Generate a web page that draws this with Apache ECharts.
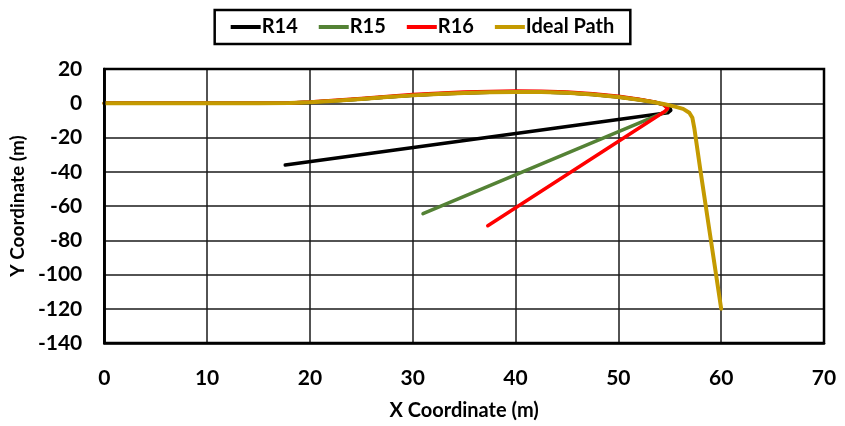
<!DOCTYPE html>
<html>
<head>
<meta charset="utf-8">
<script src="https://cdn.jsdelivr.net/npm/echarts@6/dist/echarts.min.js"></script>
<style>html,body{margin:0;padding:0;background:#fff;}#c{width:845px;height:426px;}</style>
</head>
<body>
<div id="c"></div>
<script>
const seriesNames = ['R14', 'R15', 'R16', 'Ideal Path'];
const colors = ['#000000', '#548235', '#ff0000', '#c49a00'];

const r14X = [0, 10, 15, 18, 20, 22.5, 25, 27.5, 30, 32.5, 35, 37.5, 40, 42.5, 45, 47.5, 50, 52, 53.5, 54.5, 55.0, 55.1, 54.8, 17.6];
const r14Y = [0, 0, 0, 0.2, 0.6, 1.5, 2.5, 3.6, 4.6, 5.4, 6.0, 6.4, 6.6, 6.5, 6.1, 5.1, 3.7, 2.1, 0.6, -0.8, -2.5, -4.2, -5.6, -36];

const r15X = [0, 10, 15, 18, 20, 22.5, 25, 27.5, 30, 32.5, 35, 37.5, 40, 42.5, 45, 47.5, 50, 52, 53.5, 54.4, 54.8, 54.6, 31.0];
const r15Y = [0, 0, 0, 0.2, 0.6, 1.5, 2.5, 3.6, 4.7, 5.5, 6.1, 6.5, 6.7, 6.6, 6.2, 5.2, 3.8, 2.2, 0.6, -0.9, -3.0, -5.0, -64.5];

const r16X = [0, 10, 15, 18, 20, 22.5, 25, 27.5, 30, 32.5, 35, 37.5, 40, 42.5, 45, 47.5, 50, 52, 53.5, 54.4, 54.8, 54.5, 37.3];
const r16Y = [0, 0, 0, 0.2, 0.7, 1.7, 2.8, 4.0, 5.1, 5.9, 6.5, 6.9, 7.1, 7.0, 6.6, 5.6, 4.1, 2.4, 0.8, -0.8, -3.0, -4.8, -71.5];

const idealX = [0, 10, 15, 18, 20, 22.5, 25, 27.5, 30, 32.5, 35, 37.5, 40, 42.5, 45, 47.5, 50, 52, 53.5, 54.5, 55.5, 56.3, 56.9, 57.2, 57.4, 58, 59, 60];
const idealY = [0, 0, 0, 0.2, 0.6, 1.5, 2.5, 3.6, 4.6, 5.4, 6.0, 6.4, 6.6, 6.5, 6.1, 5.1, 3.7, 2.1, 0.6, -0.6, -2.0, -3.3, -5.5, -8.5, -15, -40, -80, -120];

const xTicks = [0, 10, 20, 30, 40, 50, 60, 70];
const yTicks = [20, 0, -20, -40, -60, -80, -100, -120, -140];

const xs = [r14X, r15X, r16X, idealX];
const ys = [r14Y, r15Y, r16Y, idealY];
const widths = [3.5, 3.5, 3.5, 4];

const FONT = 'Lato';
const chart = echarts.init(document.getElementById('c'));
chart.setOption({
  animation: false,
  backgroundColor: '#ffffff',
  color: colors,
  legend: {
    data: seriesNames.map(n => ({ name: n, icon: 'rect' })),
    top: 10,
    left: 'center',
    itemWidth: 30,
    itemHeight: 4,
    itemGap: 21,
    padding: [7, 16],
    borderColor: '#000',
    borderWidth: 2.5,
    textStyle: { fontFamily: FONT, fontWeight: 'bold', fontSize: 20, color: '#000', padding: [0, 0, 0, -4] }
  },
  grid: { left: 103, right: 21, top: 69, bottom: 82, containLabel: false },
  xAxis: {
    type: 'value',
    min: xTicks[0], max: xTicks[xTicks.length - 1], interval: 10,
    name: 'X Coordinate (m)', nameLocation: 'middle', nameGap: 58,
    nameTextStyle: { fontFamily: FONT, fontWeight: 'bold', fontSize: 20, color: '#000' },
    axisLine: { show: true, onZero: false, lineStyle: { color: '#000', width: 2.5 } },
    axisTick: { show: false },
    axisLabel: { fontFamily: FONT, fontWeight: 'bold', fontSize: 21, color: '#000', margin: 25 },
    splitLine: { show: true, lineStyle: { color: '#1a1a1a', width: 1.5 } }
  },
  yAxis: {
    type: 'value',
    min: yTicks[yTicks.length - 1], max: yTicks[0], interval: 20,
    name: 'Y Coordinate (m)', nameLocation: 'middle', nameGap: 73,
    nameTextStyle: { fontFamily: FONT, fontWeight: 'bold', fontSize: 19, color: '#000' },
    axisLine: { show: true, onZero: false, lineStyle: { color: '#000', width: 2.5 } },
    axisTick: { show: false },
    axisLabel: { fontFamily: FONT, fontWeight: 'bold', fontSize: 21, color: '#000', margin: 22 },
    splitLine: { show: true, lineStyle: { color: '#1a1a1a', width: 1.5 } }
  },
  series: seriesNames.map((n, i) => ({
    name: n,
    type: 'line',
    showSymbol: false,
    smooth: false,
    z: 2 + i,
    lineStyle: { width: widths[i], color: colors[i], join: 'round', cap: 'round' },
    data: xs[i].map((x, j) => [x, ys[i][j]])
  }))
});
const g = chart.getModel().getComponent('grid').coordinateSystem.getRect();
chart.setOption({
  graphic: [{
    type: 'rect', silent: true, z: 100,
    shape: { x: g.x, y: g.y, width: g.width, height: g.height },
    style: { fill: 'none', stroke: '#000', lineWidth: 2.5 }
  }]
});
</script>
</body>
</html>
